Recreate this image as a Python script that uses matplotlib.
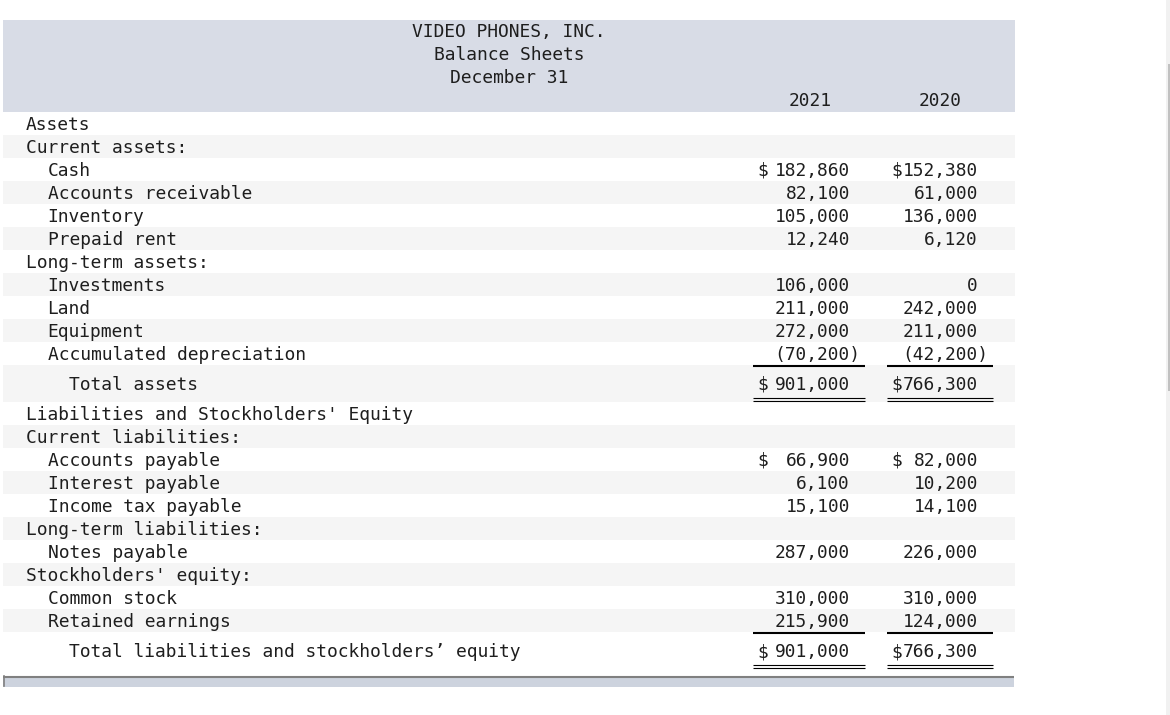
import matplotlib.pyplot as plt
from matplotlib.patches import Rectangle

# title block
title_lines = ['VIDEO PHONES, INC.', 'Balance Sheets', 'December 31']
years = ['2021', '2020']

# balance sheet rows
labels = ['Assets', 'Current assets:', 'Cash', 'Accounts receivable', 'Inventory',
          'Prepaid rent', 'Long-term assets:', 'Investments', 'Land', 'Equipment',
          'Accumulated depreciation', 'Total assets',
          "Liabilities and Stockholders' Equity", 'Current liabilities:',
          'Accounts payable', 'Interest payable', 'Income tax payable',
          'Long-term liabilities:', 'Notes payable', "Stockholders' equity:",
          'Common stock', 'Retained earnings',
          'Total liabilities and stockholders\u2019 equity']
indent = [0, 0, 1, 1, 1, 1, 0, 1, 1, 1, 1, 2, 0, 0, 1, 1, 1, 0, 1, 0, 1, 1, 2]
val_2021 = [None, None, 182860, 82100, 105000, 12240, None, 106000, 211000, 272000,
            -70200, 901000, None, None, 66900, 6100, 15100, None, 287000, None,
            310000, 215900, 901000]
val_2020 = [None, None, 152380, 61000, 136000, 6120, None, 0, 242000, 211000,
            -42200, 766300, None, None, 82000, 10200, 14100, None, 226000, None,
            310000, 124000, 766300]
dollar_rows = [2, 11, 14, 22]
single_line_rows = [10, 21]
total_rows = [11, 22]

FONT = dict(family='DejaVu Sans Mono', size=12.85, color='#1e1e1e')
CHAR_W = 10.75
LEFT, RIGHT = 3, 1015
HEADER_TOP, HEADER_BOT = 20, 111.5
# column geometry: (dollar x, value right edge, underline start, underline end)
cols = [(757, 850, 753, 865), (891, 978, 887, 993)]


def fmt(v):
    if v < 0:
        return '({:,})'.format(-v)
    return '{:,}'.format(v)


fig = plt.figure(figsize=(11.7, 7.15), dpi=100)
ax = fig.add_axes([0, 0, 1, 1])
ax.set_xlim(0, 1170)
ax.set_ylim(715, 0)
ax.axis('off')

# header band
ax.add_patch(Rectangle((LEFT, HEADER_TOP), RIGHT - LEFT, HEADER_BOT - HEADER_TOP,
                       color='#d8dce6', lw=0))
for i, line in enumerate(title_lines):
    ax.text(509, 37 + 23 * i, line, ha='center', va='baseline', **FONT)
for x, yr in zip([810, 940], years):
    ax.text(x, 106, yr, ha='center', va='baseline', **FONT)

y = HEADER_BOT
for i, lab in enumerate(labels):
    h = 37 if i in total_rows else 23
    if i % 2 == 1:
        ax.add_patch(Rectangle((LEFT, y), RIGHT - LEFT, h, color='#f5f5f5', lw=0))
    base = y + h / 2 + 7
    ax.text(26 + indent[i] * 2 * CHAR_W, base, lab, ha='left', va='baseline', **FONT)
    for (dx, rx, u0, u1), vals in zip(cols, [val_2021, val_2020]):
        v = vals[i]
        if v is None:
            continue
        s = fmt(v)
        xr = rx + CHAR_W if v < 0 else rx
        ax.text(xr, base, s, ha='right', va='baseline', **FONT)
        if i in dollar_rows:
            ax.text(dx, base, '$', ha='left', va='baseline', **FONT)
        if i in single_line_rows:
            ax.plot([u0, u1], [y + h + 1, y + h + 1], color='black', lw=1.5,
                    solid_capstyle='butt')
        if i in total_rows:
            for yy in (y + h - 3.5, y + h - 1):
                ax.plot([u0, u1], [yy, yy], color='black', lw=0.8,
                        solid_capstyle='butt')
    y += h

# bottom scroll bar
ax.add_patch(Rectangle((LEFT, 676), RIGHT - 1 - LEFT, 11, color='#cdd3de', lw=0))
ax.plot([LEFT, RIGHT - 1], [677, 677], color='#808080', lw=1.5, solid_capstyle='butt')
ax.plot([LEFT + 0.8, LEFT + 0.8], [676, 686], color='#808080', lw=1.2)

# right scroll bar
ax.add_patch(Rectangle((1166, 0), 4, 715, color='#f1f1f1', lw=0))
ax.add_patch(Rectangle((1167.5, 64), 2, 327, color='#c1c1c1', lw=0))

fig.savefig('out.png', dpi=100)
